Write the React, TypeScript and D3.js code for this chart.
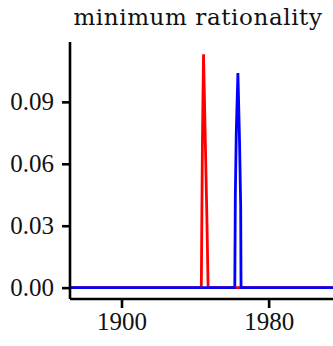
import * as d3 from 'd3';
import { useEffect, useRef } from 'react';

// data (x = year, y = value)
const redYears = [1872, 1943.4, 1943.7, 1944.0, 1944.6, 1945.6, 1946.4, 1947.1, 2015];
const redValues = [0, 0, 0.035, 0.07, 0.113, 0.07, 0.035, 0, 0];
const blueYears = [1872, 1961.6, 1961.9, 1962.4, 1963.3, 1964.2, 1964.8, 1965.0, 2015];
const blueValues = [0, 0, 0.045, 0.075, 0.104, 0.07, 0.04, 0, 0];
const yTicks = [0, 0.03, 0.06, 0.09];
const xTicks = [1900, 1980];
const title = 'minimum rationality';

interface Pt { year: number; value: number; }

const App = () => {
    const ref = useRef<SVGSVGElement>(null);

    useEffect(() => {
        const svg = d3.select(ref.current);
        svg.selectAll("*").remove();

        const x = d3.scaleLinear().domain([1872, 2015]).range([70, 333]);
        const y = d3.scaleLinear().domain([-0.0055, 0.119]).range([299, 42]);

        const line = d3.line<Pt>()
            .x(d => x(d.year))
            .y(d => y(d.value));

        const red: Pt[] = redYears.map((yr, i) => ({ year: yr, value: redValues[i] }));
        const blue: Pt[] = blueYears.map((yr, i) => ({ year: yr, value: blueValues[i] }));

        svg.append("path").datum(red)
            .attr("fill", "none").attr("stroke", "#ff0000").attr("stroke-width", 2.8)
            .attr("d", line);
        svg.append("path").datum(blue)
            .attr("fill", "none").attr("stroke", "#0000ff").attr("stroke-width", 2.8)
            .attr("d", line);

        // axes
        const yAxis = svg.append("g").attr("transform", "translate(70,0)")
            .call(d3.axisLeft(y).tickValues(yTicks).tickFormat(d3.format(".2f")).tickSizeInner(8).tickSizeOuter(0).tickPadding(8));
        const xAxis = svg.append("g").attr("transform", "translate(0,299)")
            .call(d3.axisBottom(x).tickValues(xTicks).tickFormat(d3.format("d")).tickSizeInner(9).tickSizeOuter(0).tickPadding(4));

        [yAxis, xAxis].forEach(g => {
            g.attr("font-family", null).attr("font-size", null);
            g.select(".domain").attr("stroke", "#000").attr("stroke-width", 2.6);
            g.selectAll(".tick line").attr("stroke", "#000").attr("stroke-width", 2.6);
            g.selectAll(".tick text")
                .attr("fill", "#111")
                .style("font-family", "'Liberation Serif'")
                .style("font-size", "25px");
        });
        yAxis.select(".domain").attr("d", "M0,42V299");
        xAxis.select(".domain").attr("d", "M70,0H333");

        svg.append("text")
            .attr("x", 198).attr("y", 25)
            .attr("text-anchor", "middle")
            .style("font-family", "'DejaVu Serif'")
            .style("font-size", "23px")
            .style("letter-spacing", "0.6px")
            .attr("fill", "#111")
            .text(title);
    }, []);

    return (
        <svg ref={ref} width={333} height={346}
            style={{ position: 'absolute', left: 0, top: 0, background: '#fff' }} />
    );
};

export default App;
